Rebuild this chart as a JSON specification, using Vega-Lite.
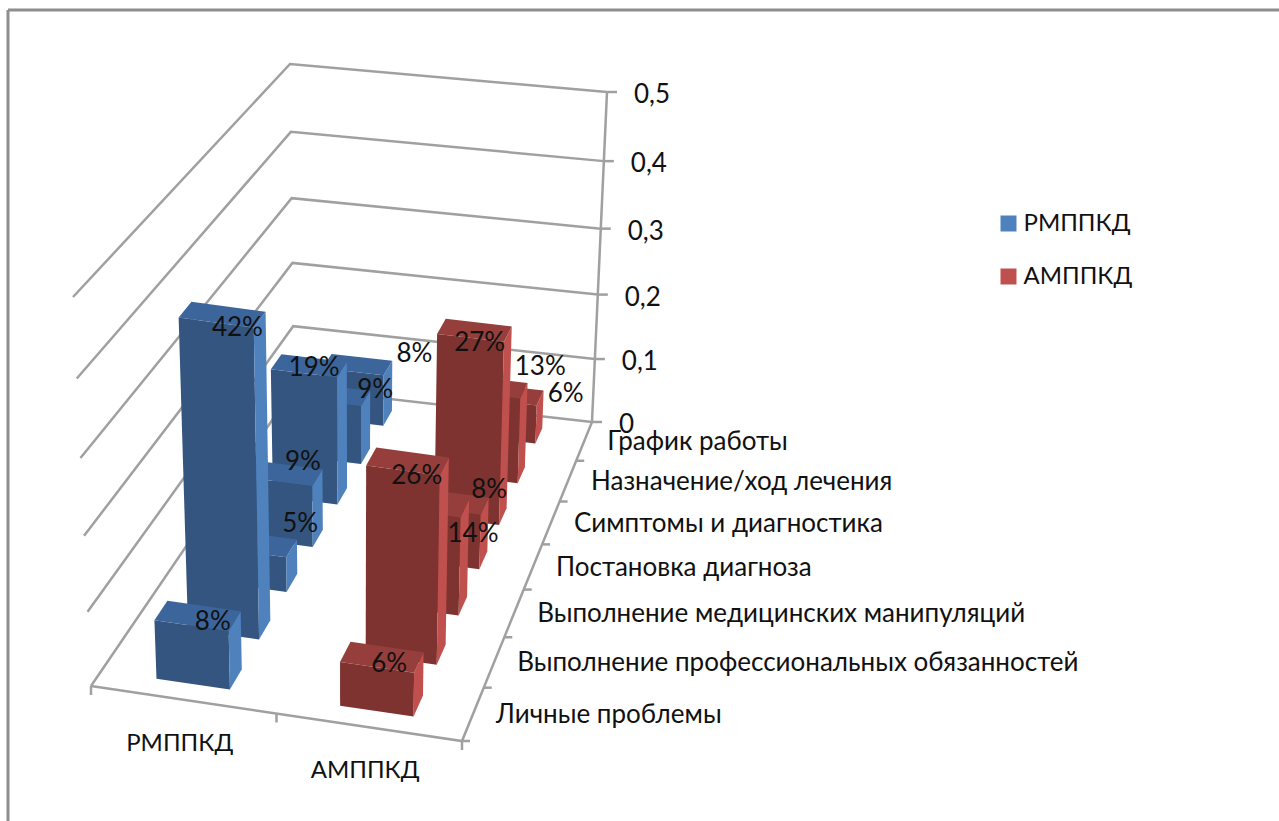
{"$schema":"https://vega.github.io/schema/vega-lite/v6.json","width":1271.5,"height":811.5,"autosize":"none","padding":{"left":7.5,"top":9.5,"right":0,"bottom":0},"background":"#ffffff","config":{"view":{"stroke":null},"text":{"font":"Lato"},"axis":{"labels":false,"ticks":false,"grid":false,"domain":true,"domainColor":"#8e8e8e","domainWidth":3}},"datasets":{"bars":[{"series":"РМППКД","category":"График работы","value":0.08},{"series":"АМППКД","category":"График работы","value":0.06},{"series":"РМППКД","category":"Назначение/ход лечения","value":0.09},{"series":"АМППКД","category":"Назначение/ход лечения","value":0.13},{"series":"РМППКД","category":"Симптомы и диагностика","value":0.19},{"series":"АМППКД","category":"Симптомы и диагностика","value":0.27},{"series":"РМППКД","category":"Постановка диагноза","value":0.09},{"series":"АМППКД","category":"Постановка диагноза","value":0.08},{"series":"РМППКД","category":"Выполнение медицинских манипуляций","value":0.05},{"series":"АМППКД","category":"Выполнение медицинских манипуляций","value":0.14},{"series":"РМППКД","category":"Выполнение профессиональных обязанностей","value":0.42},{"series":"АМППКД","category":"Выполнение профессиональных обязанностей","value":0.26},{"series":"РМППКД","category":"Личные проблемы","value":0.08},{"series":"АМППКД","category":"Личные проблемы","value":0.06}],"levels":[{"level":0},{"level":0.1},{"level":0.2},{"level":0.3},{"level":0.4},{"level":0.5}],"catTicks":[{"b":0},{"b":1},{"b":2},{"b":3},{"b":4},{"b":5},{"b":6}],"serTicks":[{"b":0},{"b":1},{"b":2}]},"layer":[{"data":{"name":"levels"},"transform":[{"calculate":"[0,1,2]","as":"i"},{"calculate":"[0,0,1]","as":"u"},{"calculate":"[0,1,1]","as":"t"},{"flatten":["i","u","t"]},{"calculate":"datum.level/0.5","as":"zr"},{"calculate":"datum.zr/(datum.zr+1.06*(1-datum.zr))","as":"zf"},{"calculate":"datum.t/(datum.t+0.83*(1-datum.t))","as":"T"},{"calculate":"(1-datum.u)*(91+203*datum.T)+datum.u*(462+130*datum.T)","as":"gx"},{"calculate":"(1-datum.u)*(686-298*datum.T)+datum.u*(741-319*datum.T)","as":"gy"},{"calculate":"(1-datum.u)*(73+217*datum.T)+datum.u*(470+137*datum.T)","as":"tx"},{"calculate":"(1-datum.u)*(297-233*datum.T)+datum.u*(355-263*datum.T)","as":"ty"},{"calculate":"datum.gx+(datum.tx-datum.gx)*datum.zf","as":"X"},{"calculate":"datum.gy+(datum.ty-datum.gy)*datum.zf","as":"Y"}],"mark":{"type":"line","stroke":"#a0a0a0","strokeWidth":2.5},"encoding":{"x":{"field":"X","type":"quantitative","scale":{"domain":[7.5,1279],"nice":false,"zero":false},"axis":{"orient":"top","title":null}},"y":{"field":"Y","type":"quantitative","scale":{"domain":[821,9.5],"nice":false,"zero":false},"axis":{"orient":"left","title":null}},"detail":{"field":"level"},"order":{"field":"i"}}},{"data":{"name":"levels"},"transform":[{"filter":"datum.level==0"},{"calculate":"[0,1,2]","as":"i"},{"calculate":"[0,1,1]","as":"u"},{"calculate":"[0,0,1]","as":"t"},{"flatten":["i","u","t"]},{"calculate":"datum.t/(datum.t+0.83*(1-datum.t))","as":"T"},{"calculate":"(1-datum.u)*(91+203*datum.T)+datum.u*(462+130*datum.T)","as":"X"},{"calculate":"(1-datum.u)*(686-298*datum.T)+datum.u*(741-319*datum.T)","as":"Y"}],"mark":{"type":"line","stroke":"#a0a0a0","strokeWidth":2.5},"encoding":{"x":{"field":"X","type":"quantitative","axis":{"orient":"top","title":null}},"y":{"field":"Y","type":"quantitative","axis":{"orient":"left","title":null}},"order":{"field":"i"}}},{"data":{"name":"levels"},"transform":[{"calculate":"datum.level/0.5","as":"zr"},{"calculate":"datum.zr/(datum.zr+1.06*(1-datum.zr))","as":"zf"},{"calculate":"592+(607-592)*datum.zf","as":"X"},{"calculate":"422+(92-422)*datum.zf","as":"Y"}],"layer":[{"mark":{"type":"line","stroke":"#a0a0a0","strokeWidth":2.5},"encoding":{"x":{"field":"X","type":"quantitative","axis":{"orient":"top","title":null}},"y":{"field":"Y","type":"quantitative","axis":{"orient":"left","title":null}},"order":{"field":"level"}}},{"mark":{"type":"point","shape":"M0,0L1,0","size":400,"filled":false,"stroke":"#a0a0a0","strokeWidth":2.5,"opacity":1},"encoding":{"x":{"field":"X","type":"quantitative","axis":{"orient":"top","title":null}},"y":{"field":"Y","type":"quantitative","axis":{"orient":"left","title":null}}}},{"transform":[{"calculate":"replace(toString(datum.level),'.',',')","as":"lab"}],"mark":{"type":"text","align":"left","baseline":"middle","dx":27,"dy":3,"fontSize":26,"font":"Lato","fill":"#111111"},"encoding":{"x":{"field":"X","type":"quantitative","axis":{"orient":"top","title":null}},"y":{"field":"Y","type":"quantitative","axis":{"orient":"left","title":null}},"text":{"field":"lab"}}}]},{"data":{"name":"catTicks"},"transform":[{"calculate":"datum.b/7","as":"t"},{"calculate":"datum.t/(datum.t+0.83*(1-datum.t))","as":"T"},{"calculate":"462+130*datum.T","as":"X"},{"calculate":"741-319*datum.T","as":"Y"}],"mark":{"type":"point","shape":"M0,0L1,0","size":256,"filled":false,"stroke":"#a0a0a0","strokeWidth":2.5,"opacity":1},"encoding":{"x":{"field":"X","type":"quantitative","axis":{"orient":"top","title":null}},"y":{"field":"Y","type":"quantitative","axis":{"orient":"left","title":null}}}},{"data":{"name":"serTicks"},"transform":[{"calculate":"datum.b/2","as":"u"},{"calculate":"91+371*datum.u","as":"X"},{"calculate":"686+55*datum.u","as":"Y"}],"mark":{"type":"point","shape":"M0,0L0,1","size":324,"filled":false,"stroke":"#a0a0a0","strokeWidth":2.5,"opacity":1},"encoding":{"x":{"field":"X","type":"quantitative","axis":{"orient":"top","title":null}},"y":{"field":"Y","type":"quantitative","axis":{"orient":"left","title":null}}}},{"data":{"name":"bars"},"transform":[{"calculate":"indexof(['РМППКД','АМППКД'],datum.series)","as":"s"},{"calculate":"indexof(['Личные проблемы','Выполнение профессиональных обязанностей','Выполнение медицинских манипуляций','Постановка диагноза','Симптомы и диагностика','Назначение/ход лечения','График работы'],datum.category)","as":"c"},{"calculate":"[0,1,2,3,4,5,6,7,8,9,10,11]","as":"v"},{"calculate":"[0,1,1,0,1,1,1,1,0,1,1,0]","as":"uf"},{"calculate":"[0,0,0,0,0,1,1,0,0,0,1,1]","as":"tf"},{"calculate":"[0,0,1,1,0,0,1,1,1,1,1,1]","as":"zflag"},{"calculate":"['front','front','front','front','side','side','side','side','top','top','top','top']","as":"face"},{"flatten":["v","uf","tf","zflag","face"]},{"calculate":"datum.series+'|'+datum.face","as":"shade"},{"calculate":"datum.series+'|'+datum.category+'|'+datum.face","as":"poly"},{"calculate":"(datum.s+0.3+0.4*datum.uf)/2","as":"u"},{"calculate":"(datum.c+0.3+0.4*datum.tf)/7","as":"t"},{"calculate":"datum.zflag*datum.value/0.5","as":"zr"},{"calculate":"datum.zr/(datum.zr+1.06*(1-datum.zr))","as":"zf"},{"calculate":"datum.t/(datum.t+0.83*(1-datum.t))","as":"T"},{"calculate":"(1-datum.u)*(91+203*datum.T)+datum.u*(462+130*datum.T)","as":"gx"},{"calculate":"(1-datum.u)*(686-298*datum.T)+datum.u*(741-319*datum.T)","as":"gy"},{"calculate":"(1-datum.u)*(73+217*datum.T)+datum.u*(470+137*datum.T)","as":"tx"},{"calculate":"(1-datum.u)*(297-233*datum.T)+datum.u*(355-263*datum.T)","as":"ty"},{"calculate":"datum.gx+(datum.tx-datum.gx)*datum.zf","as":"X"},{"calculate":"datum.gy+(datum.ty-datum.gy)*datum.zf","as":"Y"}],"mark":{"type":"line","filled":true,"strokeWidth":0},"encoding":{"x":{"field":"X","type":"quantitative","axis":{"orient":"top","title":null}},"y":{"field":"Y","type":"quantitative","axis":{"orient":"left","title":null}},"fill":{"field":"shade","type":"nominal","legend":null,"scale":{"domain":["РМППКД|front","РМППКД|side","РМППКД|top","АМППКД|front","АМППКД|side","АМППКД|top"],"range":["#33557f","#4f81bd","#3c669b","#7e3330","#c0504d","#953e3b"]}},"detail":{"field":"poly"},"order":{"field":"v"}}},{"data":{"name":"bars"},"transform":[{"calculate":"indexof(['РМППКД','АМППКД'],datum.series)","as":"s"},{"calculate":"indexof(['Личные проблемы','Выполнение профессиональных обязанностей','Выполнение медицинских манипуляций','Постановка диагноза','Симптомы и диагностика','Назначение/ход лечения','График работы'],datum.category)","as":"c"},{"calculate":"(datum.s+0.5)/2","as":"u"},{"calculate":"(datum.c+0.5)/7","as":"t"},{"calculate":"datum.value/0.5","as":"zr"},{"calculate":"datum.zr/(datum.zr+1.06*(1-datum.zr))","as":"zf"},{"calculate":"datum.t/(datum.t+0.83*(1-datum.t))","as":"T"},{"calculate":"(1-datum.u)*(91+203*datum.T)+datum.u*(462+130*datum.T)","as":"gx"},{"calculate":"(1-datum.u)*(686-298*datum.T)+datum.u*(741-319*datum.T)","as":"gy"},{"calculate":"(1-datum.u)*(73+217*datum.T)+datum.u*(470+137*datum.T)","as":"tx"},{"calculate":"(1-datum.u)*(297-233*datum.T)+datum.u*(355-263*datum.T)","as":"ty"},{"calculate":"datum.gx+(datum.tx-datum.gx)*datum.zf+[[15,15,43,19,5,41,57],[7,9,43,38,5,48,56]][datum.s][datum.c]","as":"X"},{"calculate":"datum.gy+(datum.ty-datum.gy)*datum.zf+[[6,13,-20,-11,2,-5,-11],[7,15,30,-12,13,-20,0]][datum.s][datum.c]","as":"Y"}],"mark":{"type":"text","fontSize":26,"font":"Lato","fill":"#111111","align":"center","baseline":"middle"},"encoding":{"x":{"field":"X","type":"quantitative","axis":{"orient":"top","title":null}},"y":{"field":"Y","type":"quantitative","axis":{"orient":"left","title":null}},"text":{"field":"value","type":"quantitative","format":".0%"}}},{"data":{"name":"bars"},"transform":[{"filter":"datum.series=='РМППКД'"},{"calculate":"indexof(['Личные проблемы','Выполнение профессиональных обязанностей','Выполнение медицинских манипуляций','Постановка диагноза','Симптомы и диагностика','Назначение/ход лечения','График работы'],datum.category)","as":"c"},{"calculate":"(datum.c+0.5)/7","as":"t"},{"calculate":"datum.t/(datum.t+0.83*(1-datum.t))","as":"T"},{"calculate":"462+130*datum.T","as":"X"},{"calculate":"741-319*datum.T","as":"Y"}],"mark":{"type":"text","align":"left","baseline":"middle","dx":23,"dy":1,"fontSize":26,"font":"Lato","fill":"#111111"},"encoding":{"x":{"field":"X","type":"quantitative","axis":{"orient":"top","title":null}},"y":{"field":"Y","type":"quantitative","axis":{"orient":"left","title":null}},"text":{"field":"category"}}},{"data":{"name":"bars"},"transform":[{"filter":"datum.category=='Личные проблемы'"},{"calculate":"(indexof(['РМППКД','АМППКД'],datum.series)+0.5)/2","as":"u"},{"calculate":"91+371*datum.u","as":"X"},{"calculate":"686+55*datum.u","as":"Y"}],"mark":{"type":"text","align":"center","baseline":"middle","dx":-4,"dy":44,"fontSize":24,"font":"Lato","fill":"#111111"},"encoding":{"x":{"field":"X","type":"quantitative","axis":{"orient":"top","title":null}},"y":{"field":"Y","type":"quantitative","axis":{"orient":"left","title":null}},"text":{"field":"series"}}},{"data":{"name":"bars"},"mark":{"type":"point","filled":true,"size":0,"opacity":0},"encoding":{"color":{"field":"series","type":"nominal","scale":{"domain":["РМППКД","АМППКД"],"range":["#4f81bd","#c0504d"]},"legend":{"title":null,"orient":"none","legendX":989,"legendY":202,"symbolType":"square","symbolSize":256,"symbolOpacity":1,"labelFontSize":24,"labelFont":"Lato","labelColor":"#111111","labelOffset":3,"rowPadding":29,"padding":0}}}}]}
